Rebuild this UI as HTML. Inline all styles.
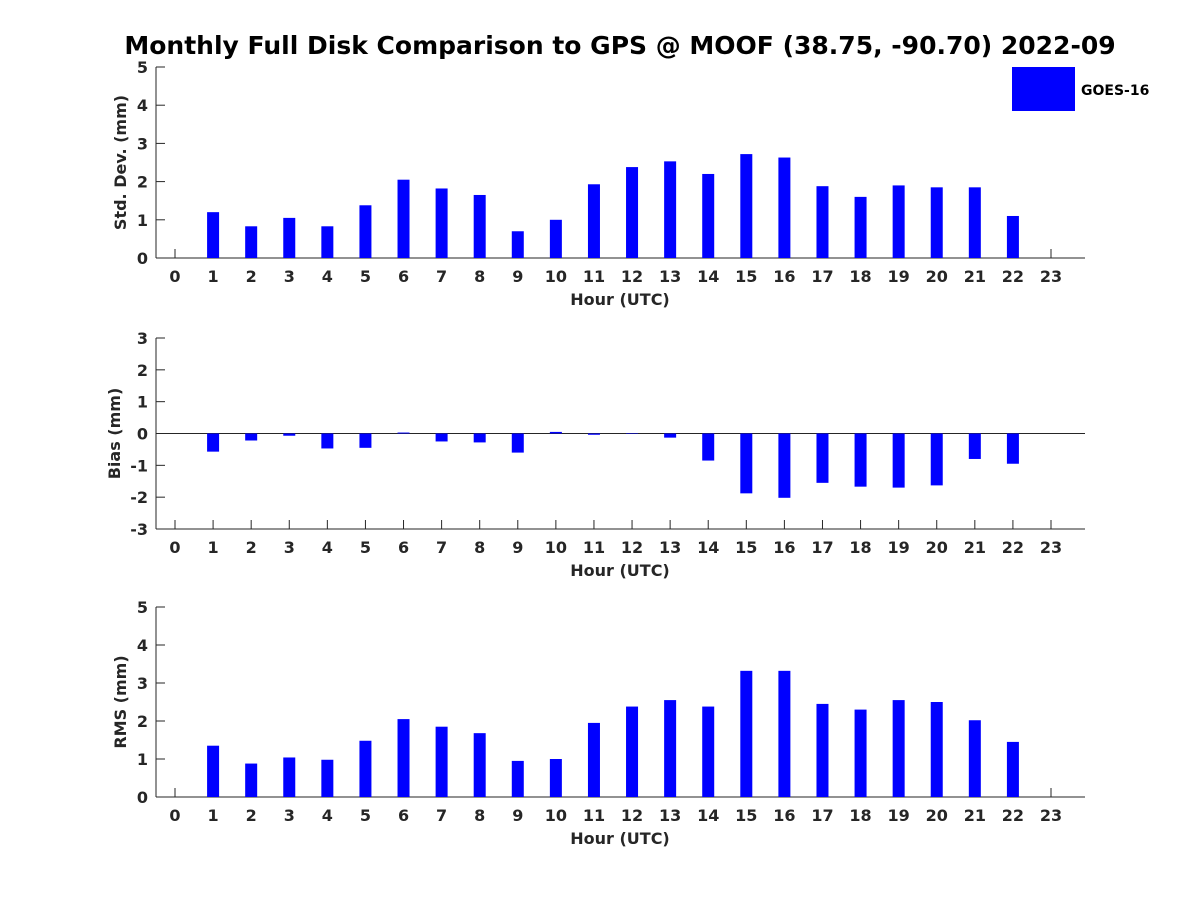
<!DOCTYPE html>
<html><head><meta charset="utf-8"><style>
body{margin:0;background:#fff}
svg text{font-family:"DejaVu Sans","Liberation Sans",sans-serif;font-weight:bold;fill:#262626}
</style></head><body>
<svg id="c" width="1200" height="900">
<text x="620" y="54" text-anchor="middle" font-size="25" style="fill:#000">Monthly Full Disk Comparison to GPS @ MOOF (38.75, -90.70) 2022-09</text>
<rect x="1012" y="67" width="63" height="44" fill="#0000ff"/>
<text x="1081" y="95" font-size="14" style="fill:#000">GOES-16</text>
</svg>
<script>
const hours=[0,1,2,3,4,5,6,7,8,9,10,11,12,13,14,15,16,17,18,19,20,21,22,23];
const stdVals=[null,1.2,0.83,1.05,0.83,1.38,2.05,1.82,1.65,0.7,1.0,1.93,2.38,2.53,2.2,2.72,2.63,1.88,1.6,1.9,1.85,1.85,1.1,null];
const biasVals=[null,-0.57,-0.22,-0.07,-0.47,-0.45,0.03,-0.25,-0.28,-0.6,0.05,-0.04,0,-0.13,-0.85,-1.88,-2.02,-1.55,-1.67,-1.7,-1.63,-0.8,-0.95,null];
const rmsVals=[null,1.35,0.88,1.04,0.98,1.48,2.05,1.85,1.68,0.95,1.0,1.95,2.38,2.55,2.38,3.32,3.32,2.45,2.3,2.55,2.5,2.02,1.45,null];
const stdTicks=[0,1,2,3,4,5];
const biasTicks=[-3,-2,-1,0,1,2,3];
const rmsTicks=[0,1,2,3,4,5];
const svg=document.getElementById('c');
const NS='http://www.w3.org/2000/svg';
function mk(t,a){const e=document.createElementNS(NS,t);for(const k in a)e.setAttribute(k,a[k]);svg.appendChild(e);return e;}
const xs=h=>175+h*(1051-175)/23;
function panel(id,top,bot,ymin,ymax,ticks,vals,ylabel,zero,lx){
  const ys=v=>bot-(v-ymin)/(ymax-ymin)*(bot-top);
  let l=mk('line',{x1:156,y1:top,x2:156,y2:bot,stroke:'#262626','stroke-width':1});
  
  
  l=mk('line',{x1:156,y1:bot,x2:1085,y2:bot,stroke:'#262626','stroke-width':1});
  
  
  if(zero){l=mk('line',{x1:156,y1:ys(0),x2:1085,y2:ys(0),stroke:'#262626','stroke-width':1});
    
    }
  ticks.forEach(t=>{const y=ys(t);
    mk('line',{x1:156,y1:y,x2:165,y2:y,stroke:'#262626'});
    const tx=mk('text',{x:148,y:y+6,'text-anchor':'end','font-size':16});tx.textContent=t;
    
    });
  hours.forEach(h=>{const x=xs(h);
    mk('line',{x1:x,y1:bot,x2:x,y2:bot-9,stroke:'#262626'});
    const tx=mk('text',{x:x,y:bot+24,'text-anchor':'middle','font-size':16});tx.textContent=h;
    
    });
  vals.forEach((v,i)=>{if(v===null)return;const y0=ys(0),y1=ys(v);
    const r=mk('rect',{x:xs(hours[i])-6,y:Math.min(y0,y1),width:12,height:Math.max(Math.abs(y1-y0),0.5),fill:'#0000ff'});
    
    });
  let t=mk('text',{x:620,y:bot+47,'text-anchor':'middle','font-size':16});t.textContent='Hour (UTC)';
  
  
  const cy=(top+bot)/2;
  t=mk('text',{x:lx,y:cy,'text-anchor':'middle','font-size':16,transform:`rotate(-90 ${lx} ${cy})`});t.textContent=ylabel;
  
  
}
panel('std',67,258,0,5,stdTicks,stdVals,'Std. Dev. (mm)',false,126);
panel('bias',338,529,-3,3,biasTicks,biasVals,'Bias (mm)',true,120);
panel('rms',607,797,0,5,rmsTicks,rmsVals,'RMS (mm)',false,126);
</script>
</body></html>
